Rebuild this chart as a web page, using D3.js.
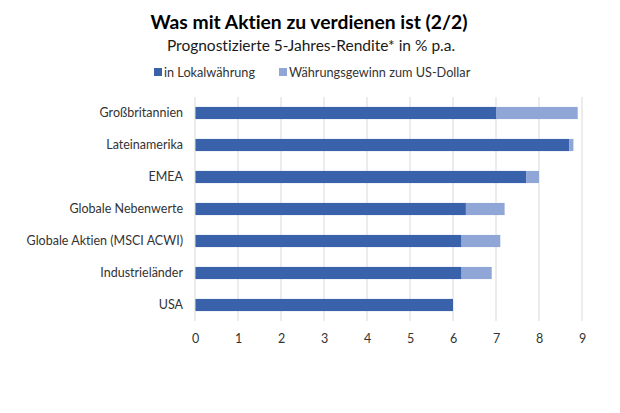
<!DOCTYPE html>
<html><head><meta charset="utf-8">
<script src="https://cdn.jsdelivr.net/npm/d3@7"></script>
<style>body{margin:0;background:#fff;}svg{display:block;font-family:Lato,"Open Sans",sans-serif;font-variant-ligatures:none;font-feature-settings:"liga" 0,"dlig" 0;}</style>
</head><body>
<svg id="c" width="620" height="413"></svg>
<script>
const categories = ["Großbritannien","Lateinamerika","EMEA","Globale Nebenwerte","Globale Aktien (MSCI ACWI)","Industrieländer","USA"];
const localValues = [7.0, 8.7, 7.7, 6.3, 6.2, 6.2, 6.0];
const fxGainValues = [1.9, 0.1, 0.3, 0.9, 0.9, 0.7, 0.0];
const tickValues = [0,1,2,3,4,5,6,7,8,9];
const seriesNames = ["in Lokalwährung","Währungsgewinn zum US-Dollar"];
const colors = ["#3a62ab","#8fa6d7"];

const svg = d3.select("#c");
const x = d3.scaleLinear().domain([0,9]).range([195,582]);
const y = d3.scaleBand().domain(categories).range([97,321]).paddingInner(0.62).paddingOuter(0.31);

svg.append("text").attr("x",309).attr("y",29).attr("text-anchor","middle")
  .attr("font-size",19.3).attr("font-weight","bold").attr("fill","#000").text("Was mit Aktien zu verdienen ist (2/2)");
svg.append("text").attr("x",311).attr("y",51).attr("text-anchor","middle")
  .attr("font-size",15.5).attr("fill","#1a1a1a").text("Prognostizierte 5-Jahres-Rendite* in % p.a.");

// gridlines
svg.append("g").selectAll("line").data(tickValues.slice(1)).join("line")
  .attr("x1",d=>x(d)).attr("x2",d=>x(d)).attr("y1",97).attr("y2",321)
  .attr("stroke","#d9d9d9").attr("stroke-width",1);

// stacked bars
const rows = categories.map((c,i)=>({c, a:localValues[i], b:fxGainValues[i]}));
const stack = d3.stack().keys(["a","b"])(rows);
svg.append("g").selectAll("g").data(stack).join("g").attr("fill",(d,i)=>colors[i])
  .selectAll("rect").data(d=>d).join("rect")
  .attr("x",d=>x(d[0])).attr("width",d=>Math.max(0,x(d[1])-x(d[0])))
  .attr("y",d=>y(d.data.c)).attr("height",y.bandwidth());

// axis line
svg.append("line").attr("x1",x(0)).attr("x2",x(0)).attr("y1",97).attr("y2",321).attr("stroke","#d9d9d9");

// y labels
const ya = svg.append("g").attr("transform",`translate(${x(0)},0)`)
  .call(d3.axisLeft(y).tickSize(0).tickPadding(12));
ya.select(".domain").remove();
ya.selectAll("text").attr("font-size",12.5).attr("fill","#333").attr("font-family","Lato,'Open Sans',sans-serif");

// x labels
const xa = svg.append("g").attr("transform","translate(0,321)")
  .call(d3.axisBottom(x).tickValues(tickValues).tickSize(0).tickPadding(13).tickFormat(d3.format("d")));
xa.select(".domain").remove();
xa.selectAll("text").attr("font-size",12.5).attr("fill","#333").attr("font-family","Lato,'Open Sans',sans-serif");

// legend
const lg = svg.append("g");
const lx = [154, 279];
seriesNames.forEach((n,i)=>{
  lg.append("rect").attr("x",lx[i]).attr("y",68).attr("width",8).attr("height",8).attr("fill",colors[i]);
  lg.append("text").attr("x",lx[i]+10).attr("y",76.5).attr("font-size",12.7).attr("fill","#333").text(n);
});
</script>
</body></html>
